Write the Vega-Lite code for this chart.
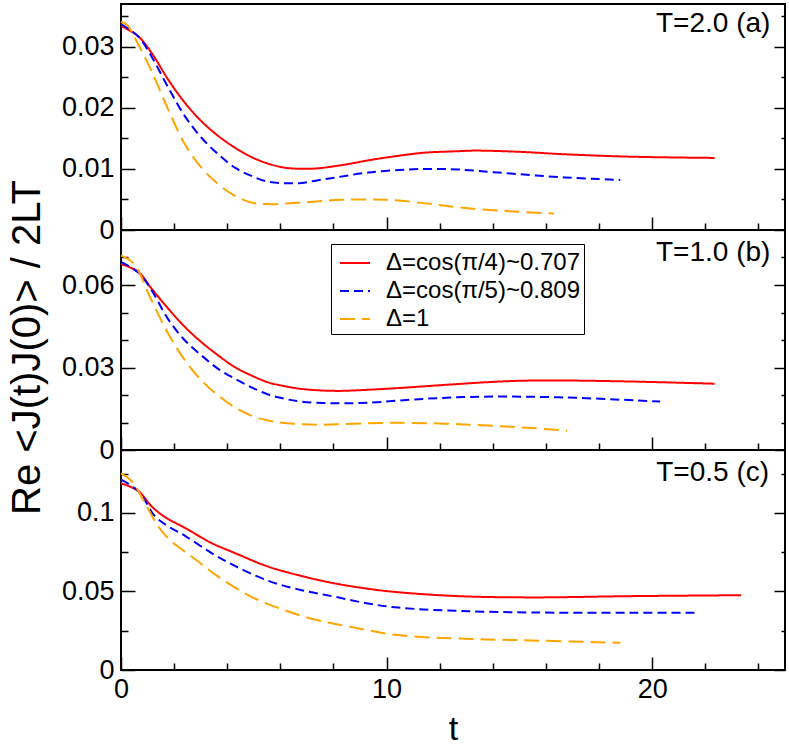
{
  "$schema": "https://vega.github.io/schema/vega-lite/v6.json",
  "padding": {"left": 6, "top": 3, "right": 2, "bottom": 5},
  "background": "white",
  "config": {
    "font": "Liberation Sans",
    "view": {"stroke": "#000", "strokeWidth": 2},
    "axis": {
      "domain": false, "grid": false, "tickColor": "#000", "tickWidth": 1.5,
      "labelColor": "#000", "labelFont": "Liberation Sans", "labelFontSize": 27,
      "titleFont": "Liberation Sans", "titleFontWeight": "normal", "titleColor": "#000",
      "labelOverlap": false, "labelBound": false, "labelFlush": false, "minExtent": 0
    },
    "legend": {
      "orient": "none", "legendX": 210, "legendY": 240, "title": null,
      "symbolType": "stroke", "symbolSize": 900, "symbolStrokeWidth": 2, "symbolOffset": 5,
      "labelFontSize": 24, "labelFont": "Liberation Sans", "labelColor": "#000", "labelLimit": 0,
      "labelOffset": 15, "padding": 3, "rowPadding": 0,
      "strokeColor": "#000", "fillColor": "#fff"
    }
  },
  "datasets": {
    "a": [
      {"s": "Δ=cos(π/4)~0.707", "t": 0, "v": 0.0334},
      {"s": "Δ=cos(π/4)~0.707", "t": 0.65, "v": 0.0317},
      {"s": "Δ=cos(π/4)~0.707", "t": 1.15, "v": 0.0290},
      {"s": "Δ=cos(π/4)~0.707", "t": 1.78, "v": 0.0246},
      {"s": "Δ=cos(π/4)~0.707", "t": 2.41, "v": 0.0208},
      {"s": "Δ=cos(π/4)~0.707", "t": 3.03, "v": 0.0178},
      {"s": "Δ=cos(π/4)~0.707", "t": 3.66, "v": 0.0154},
      {"s": "Δ=cos(π/4)~0.707", "t": 4.29, "v": 0.01347},
      {"s": "Δ=cos(π/4)~0.707", "t": 4.91, "v": 0.01195},
      {"s": "Δ=cos(π/4)~0.707", "t": 5.54, "v": 0.01086},
      {"s": "Δ=cos(π/4)~0.707", "t": 6.17, "v": 0.0102},
      {"s": "Δ=cos(π/4)~0.707", "t": 6.8, "v": 0.01002},
      {"s": "Δ=cos(π/4)~0.707", "t": 7.42, "v": 0.0101},
      {"s": "Δ=cos(π/4)~0.707", "t": 8.05, "v": 0.01045},
      {"s": "Δ=cos(π/4)~0.707", "t": 8.68, "v": 0.0109},
      {"s": "Δ=cos(π/4)~0.707", "t": 9.3, "v": 0.0114},
      {"s": "Δ=cos(π/4)~0.707", "t": 10.2, "v": 0.0120},
      {"s": "Δ=cos(π/4)~0.707", "t": 11.4, "v": 0.01265},
      {"s": "Δ=cos(π/4)~0.707", "t": 12.7, "v": 0.0129},
      {"s": "Δ=cos(π/4)~0.707", "t": 13.3, "v": 0.0130},
      {"s": "Δ=cos(π/4)~0.707", "t": 15.0, "v": 0.0128},
      {"s": "Δ=cos(π/4)~0.707", "t": 16.7, "v": 0.0124},
      {"s": "Δ=cos(π/4)~0.707", "t": 19.2, "v": 0.0120},
      {"s": "Δ=cos(π/4)~0.707", "t": 22.35, "v": 0.0118},
      {"s": "Δ=cos(π/5)~0.809", "t": 0, "v": 0.0337},
      {"s": "Δ=cos(π/5)~0.809", "t": 0.65, "v": 0.0317},
      {"s": "Δ=cos(π/5)~0.809", "t": 1.15, "v": 0.0284},
      {"s": "Δ=cos(π/5)~0.809", "t": 1.78, "v": 0.0233},
      {"s": "Δ=cos(π/5)~0.809", "t": 2.41, "v": 0.0186},
      {"s": "Δ=cos(π/5)~0.809", "t": 3.03, "v": 0.0151},
      {"s": "Δ=cos(π/5)~0.809", "t": 3.66, "v": 0.0124},
      {"s": "Δ=cos(π/5)~0.809", "t": 4.29, "v": 0.0102},
      {"s": "Δ=cos(π/5)~0.809", "t": 4.91, "v": 0.00885},
      {"s": "Δ=cos(π/5)~0.809", "t": 5.54, "v": 0.0079},
      {"s": "Δ=cos(π/5)~0.809", "t": 6.17, "v": 0.00766},
      {"s": "Δ=cos(π/5)~0.809", "t": 6.8, "v": 0.0077},
      {"s": "Δ=cos(π/5)~0.809", "t": 7.42, "v": 0.00815},
      {"s": "Δ=cos(π/5)~0.809", "t": 8.05, "v": 0.00858},
      {"s": "Δ=cos(π/5)~0.809", "t": 9.3, "v": 0.0094},
      {"s": "Δ=cos(π/5)~0.809", "t": 10.8, "v": 0.0099},
      {"s": "Δ=cos(π/5)~0.809", "t": 11.7, "v": 0.0100},
      {"s": "Δ=cos(π/5)~0.809", "t": 12.7, "v": 0.0099},
      {"s": "Δ=cos(π/5)~0.809", "t": 14.2, "v": 0.0094},
      {"s": "Δ=cos(π/5)~0.809", "t": 16.7, "v": 0.0086},
      {"s": "Δ=cos(π/5)~0.809", "t": 18.8, "v": 0.0082},
      {"s": "Δ=1", "t": 0, "v": 0.0341},
      {"s": "Δ=1", "t": 0.25, "v": 0.0335},
      {"s": "Δ=1", "t": 0.53, "v": 0.0314},
      {"s": "Δ=1", "t": 1.15, "v": 0.0260},
      {"s": "Δ=1", "t": 1.78, "v": 0.0197},
      {"s": "Δ=1", "t": 2.41, "v": 0.0140},
      {"s": "Δ=1", "t": 3.03, "v": 0.0102},
      {"s": "Δ=1", "t": 3.66, "v": 0.0075},
      {"s": "Δ=1", "t": 4.29, "v": 0.0056},
      {"s": "Δ=1", "t": 4.91, "v": 0.0045},
      {"s": "Δ=1", "t": 5.54, "v": 0.00424},
      {"s": "Δ=1", "t": 6.8, "v": 0.0045},
      {"s": "Δ=1", "t": 8.05, "v": 0.0049},
      {"s": "Δ=1", "t": 9.3, "v": 0.0050},
      {"s": "Δ=1", "t": 10.2, "v": 0.0049},
      {"s": "Δ=1", "t": 11.4, "v": 0.0044},
      {"s": "Δ=1", "t": 12.7, "v": 0.0037},
      {"s": "Δ=1", "t": 14.5, "v": 0.0031},
      {"s": "Δ=1", "t": 16.3, "v": 0.0027}
    ],
    "b": [
      {"s": "Δ=cos(π/4)~0.707", "t": 0, "v": 0.0676},
      {"s": "Δ=cos(π/4)~0.707", "t": 0.65, "v": 0.0648},
      {"s": "Δ=cos(π/4)~0.707", "t": 1.15, "v": 0.0587},
      {"s": "Δ=cos(π/4)~0.707", "t": 1.78, "v": 0.0514},
      {"s": "Δ=cos(π/4)~0.707", "t": 2.41, "v": 0.0447},
      {"s": "Δ=cos(π/4)~0.707", "t": 3.03, "v": 0.0392},
      {"s": "Δ=cos(π/4)~0.707", "t": 3.66, "v": 0.0344},
      {"s": "Δ=cos(π/4)~0.707", "t": 4.29, "v": 0.0301},
      {"s": "Δ=cos(π/4)~0.707", "t": 4.91, "v": 0.0271},
      {"s": "Δ=cos(π/4)~0.707", "t": 5.54, "v": 0.0246},
      {"s": "Δ=cos(π/4)~0.707", "t": 6.17, "v": 0.0232},
      {"s": "Δ=cos(π/4)~0.707", "t": 6.8, "v": 0.0222},
      {"s": "Δ=cos(π/4)~0.707", "t": 8.05, "v": 0.0215},
      {"s": "Δ=cos(π/4)~0.707", "t": 9.3, "v": 0.0219},
      {"s": "Δ=cos(π/4)~0.707", "t": 10.4, "v": 0.0225},
      {"s": "Δ=cos(π/4)~0.707", "t": 12.7, "v": 0.0240},
      {"s": "Δ=cos(π/4)~0.707", "t": 14.5, "v": 0.0250},
      {"s": "Δ=cos(π/4)~0.707", "t": 16.1, "v": 0.0253},
      {"s": "Δ=cos(π/4)~0.707", "t": 19.2, "v": 0.0249},
      {"s": "Δ=cos(π/4)~0.707", "t": 22.35, "v": 0.0241},
      {"s": "Δ=cos(π/5)~0.809", "t": 0, "v": 0.0684},
      {"s": "Δ=cos(π/5)~0.809", "t": 0.65, "v": 0.0645},
      {"s": "Δ=cos(π/5)~0.809", "t": 1.15, "v": 0.0581},
      {"s": "Δ=cos(π/5)~0.809", "t": 1.78, "v": 0.0475},
      {"s": "Δ=cos(π/5)~0.809", "t": 2.41, "v": 0.0398},
      {"s": "Δ=cos(π/5)~0.809", "t": 3.03, "v": 0.0344},
      {"s": "Δ=cos(π/5)~0.809", "t": 3.66, "v": 0.0295},
      {"s": "Δ=cos(π/5)~0.809", "t": 4.29, "v": 0.0259},
      {"s": "Δ=cos(π/5)~0.809", "t": 4.91, "v": 0.0228},
      {"s": "Δ=cos(π/5)~0.809", "t": 5.54, "v": 0.0202},
      {"s": "Δ=cos(π/5)~0.809", "t": 6.17, "v": 0.0186},
      {"s": "Δ=cos(π/5)~0.809", "t": 6.8, "v": 0.0176},
      {"s": "Δ=cos(π/5)~0.809", "t": 8.05, "v": 0.0170},
      {"s": "Δ=cos(π/5)~0.809", "t": 9.3, "v": 0.0172},
      {"s": "Δ=cos(π/5)~0.809", "t": 11.4, "v": 0.0186},
      {"s": "Δ=cos(π/5)~0.809", "t": 13.6, "v": 0.0194},
      {"s": "Δ=cos(π/5)~0.809", "t": 16.7, "v": 0.0191},
      {"s": "Δ=cos(π/5)~0.809", "t": 20.3, "v": 0.0176},
      {"s": "Δ=1", "t": 0, "v": 0.0708},
      {"s": "Δ=1", "t": 0.25, "v": 0.0695},
      {"s": "Δ=1", "t": 0.53, "v": 0.0672},
      {"s": "Δ=1", "t": 1.15, "v": 0.0544},
      {"s": "Δ=1", "t": 1.78, "v": 0.0423},
      {"s": "Δ=1", "t": 2.41, "v": 0.0326},
      {"s": "Δ=1", "t": 3.03, "v": 0.0253},
      {"s": "Δ=1", "t": 3.66, "v": 0.0198},
      {"s": "Δ=1", "t": 4.29, "v": 0.0155},
      {"s": "Δ=1", "t": 4.91, "v": 0.0125},
      {"s": "Δ=1", "t": 5.54, "v": 0.0107},
      {"s": "Δ=1", "t": 6.17, "v": 0.0098},
      {"s": "Δ=1", "t": 7.42, "v": 0.0092},
      {"s": "Δ=1", "t": 9.3, "v": 0.0097},
      {"s": "Δ=1", "t": 10.4, "v": 0.0099},
      {"s": "Δ=1", "t": 12.7, "v": 0.0094},
      {"s": "Δ=1", "t": 15.45, "v": 0.0080},
      {"s": "Δ=1", "t": 16.8, "v": 0.0070}
    ],
    "c": [
      {"s": "Δ=cos(π/4)~0.707", "t": 0, "v": 0.1188},
      {"s": "Δ=cos(π/4)~0.707", "t": 0.65, "v": 0.1139},
      {"s": "Δ=cos(π/4)~0.707", "t": 1.15, "v": 0.1042},
      {"s": "Δ=cos(π/4)~0.707", "t": 1.65, "v": 0.0974},
      {"s": "Δ=cos(π/4)~0.707", "t": 2.41, "v": 0.0904},
      {"s": "Δ=cos(π/4)~0.707", "t": 3.41, "v": 0.0808},
      {"s": "Δ=cos(π/4)~0.707", "t": 4.29, "v": 0.0744},
      {"s": "Δ=cos(π/4)~0.707", "t": 5.54, "v": 0.0658},
      {"s": "Δ=cos(π/4)~0.707", "t": 6.8, "v": 0.0598},
      {"s": "Δ=cos(π/4)~0.707", "t": 8.05, "v": 0.0551},
      {"s": "Δ=cos(π/4)~0.707", "t": 9.3, "v": 0.0517},
      {"s": "Δ=cos(π/4)~0.707", "t": 10.43, "v": 0.0495},
      {"s": "Δ=cos(π/4)~0.707", "t": 12.7, "v": 0.0470},
      {"s": "Δ=cos(π/4)~0.707", "t": 15.45, "v": 0.0462},
      {"s": "Δ=cos(π/4)~0.707", "t": 19.2, "v": 0.0470},
      {"s": "Δ=cos(π/4)~0.707", "t": 23.35, "v": 0.0476},
      {"s": "Δ=cos(π/5)~0.809", "t": 0, "v": 0.1211},
      {"s": "Δ=cos(π/5)~0.809", "t": 0.65, "v": 0.1139},
      {"s": "Δ=cos(π/5)~0.809", "t": 1.28, "v": 0.0978},
      {"s": "Δ=cos(π/5)~0.809", "t": 1.78, "v": 0.0914},
      {"s": "Δ=cos(π/5)~0.809", "t": 2.41, "v": 0.0854},
      {"s": "Δ=cos(π/5)~0.809", "t": 3.41, "v": 0.0744},
      {"s": "Δ=cos(π/5)~0.809", "t": 4.29, "v": 0.0662},
      {"s": "Δ=cos(π/5)~0.809", "t": 5.54, "v": 0.0568},
      {"s": "Δ=cos(π/5)~0.809", "t": 6.8, "v": 0.0508},
      {"s": "Δ=cos(π/5)~0.809", "t": 8.05, "v": 0.0466},
      {"s": "Δ=cos(π/5)~0.809", "t": 9.3, "v": 0.0423},
      {"s": "Δ=cos(π/5)~0.809", "t": 10.43, "v": 0.0397},
      {"s": "Δ=cos(π/5)~0.809", "t": 12.69, "v": 0.0376},
      {"s": "Δ=cos(π/5)~0.809", "t": 15.45, "v": 0.0366},
      {"s": "Δ=cos(π/5)~0.809", "t": 19.2, "v": 0.0365},
      {"s": "Δ=cos(π/5)~0.809", "t": 21.7, "v": 0.0365},
      {"s": "Δ=1", "t": 0, "v": 0.1252},
      {"s": "Δ=1", "t": 0.4, "v": 0.1203},
      {"s": "Δ=1", "t": 0.9, "v": 0.1064},
      {"s": "Δ=1", "t": 1.4, "v": 0.0914},
      {"s": "Δ=1", "t": 1.9, "v": 0.0818},
      {"s": "Δ=1", "t": 2.66, "v": 0.0722},
      {"s": "Δ=1", "t": 3.66, "v": 0.0594},
      {"s": "Δ=1", "t": 4.91, "v": 0.0466},
      {"s": "Δ=1", "t": 6.17, "v": 0.0380},
      {"s": "Δ=1", "t": 7.42, "v": 0.0316},
      {"s": "Δ=1", "t": 8.68, "v": 0.0273},
      {"s": "Δ=1", "t": 10.43, "v": 0.0222},
      {"s": "Δ=1", "t": 12.94, "v": 0.0199},
      {"s": "Δ=1", "t": 15.45, "v": 0.0188},
      {"s": "Δ=1", "t": 18.8, "v": 0.0173}
    ]
  },
  "spacing": 0,
  "bounds": "flush",
  "vconcat": [
    {
      "width": 664, "height": 226,
      "data": {"name": "a"},
      "layer": [
        {
          "mark": {"type": "line", "strokeWidth": 2, "interpolate": "catmull-rom"},
          "encoding": {
            "x": {"field": "t", "type": "quantitative", "scale": {"domain": [0, 25], "nice": false}, "axis": null},
            "y": {"field": "v", "type": "quantitative", "scale": {"domain": [0, 0.037], "nice": false, "zero": false},
                  "axis": {"orient": "left", "values": [0, 0.01, 0.02, 0.03], "ticks": false, "format": "~g", "labelPadding": 7, "title": null}},
            "color": {"field": "s", "type": "nominal", "sort": null,
                      "scale": {"domain": ["Δ=cos(π/4)~0.707", "Δ=cos(π/5)~0.809", "Δ=1"], "range": ["#ff0000", "#0000ff", "#ffa500"]}},
            "strokeDash": {"field": "s", "type": "nominal", "sort": null,
                           "scale": {"domain": ["Δ=cos(π/4)~0.707", "Δ=cos(π/5)~0.809", "Δ=1"], "range": [[1, 0], [9, 5], [15, 7]]}}
          }
        },
        {
          "mark": {"type": "point", "opacity": 0},
          "encoding": {
            "x": {"field": "t", "type": "quantitative", "scale": {"domain": [0, 25], "nice": false},
                  "axis": {"orient": "bottom", "values": [0, 10, 20], "labels": false, "tickSize": -13, "title": null}},
            "y": {"field": "v", "type": "quantitative", "scale": {"domain": [0, 0.037], "nice": false, "zero": false},
                  "axis": {"orient": "left", "values": [0, 0.01, 0.02, 0.03], "labels": false, "tickSize": -14, "title": null}}
          }
        },
        {
          "mark": {"type": "point", "opacity": 0},
          "encoding": {
            "x": {"field": "t", "type": "quantitative", "scale": {"domain": [0, 25], "nice": false},
                  "axis": {"orient": "bottom", "values": [2, 4, 6, 8, 12, 14, 16, 18, 22, 24], "labels": false, "tickSize": -7, "title": null}},
            "y": {"field": "v", "type": "quantitative", "scale": {"domain": [0, 0.037], "nice": false, "zero": false},
                  "axis": {"orient": "left", "values": [0.005, 0.015, 0.025, 0.035], "labels": false, "tickSize": -7, "title": null}}
          }
        },
        {
          "mark": {"type": "point", "opacity": 0},
          "encoding": {
            "x": {"field": "t", "type": "quantitative", "scale": {"domain": [0, 25], "nice": false}, "axis": null},
            "y": {"field": "v", "type": "quantitative", "scale": {"domain": [0, 0.037], "nice": false, "zero": false},
                  "axis": {"orient": "right", "values": [0, 0.01, 0.02, 0.03], "labels": false, "tickSize": -11, "title": null}}
          }
        },
        {
          "mark": {"type": "point", "opacity": 0},
          "encoding": {
            "x": {"field": "t", "type": "quantitative", "scale": {"domain": [0, 25], "nice": false}, "axis": null},
            "y": {"field": "v", "type": "quantitative", "scale": {"domain": [0, 0.037], "nice": false, "zero": false},
                  "axis": {"orient": "right", "values": [0.005, 0.015, 0.025, 0.035], "labels": false, "tickSize": -4, "title": null}}
          }
        },
        {
          "data": {"values": [{}]},
          "mark": {"type": "text", "text": "T=2.0 (a)", "align": "right", "baseline": "middle", "fontSize": 28, "color": "#000"},
          "encoding": {
            "x": {"datum": 24.45, "type": "quantitative", "scale": {"domain": [0, 25], "nice": false}, "axis": null},
            "y": {"datum": 0.0338, "type": "quantitative", "scale": {"domain": [0, 0.037], "nice": false, "zero": false}, "axis": null}
          }
        }
      ],
      "resolve": {"axis": {"x": "independent", "y": "independent"}}
    },
    {
      "width": 664, "height": 220,
      "data": {"name": "b"},
      "layer": [
        {
          "mark": {"type": "line", "strokeWidth": 2, "interpolate": "catmull-rom"},
          "encoding": {
            "x": {"field": "t", "type": "quantitative", "scale": {"domain": [0, 25], "nice": false}, "axis": null},
            "y": {"field": "v", "type": "quantitative", "scale": {"domain": [0, 0.08], "nice": false, "zero": false},
                  "axis": {"orient": "left", "values": [0, 0.03, 0.06], "ticks": false, "format": "~g", "labelPadding": 7,
                           "title": "Re <J(t)J(0)> / 2LT", "titleFontSize": 40, "titlePadding": 14, "titleY": 117}},
            "color": {"field": "s", "type": "nominal", "sort": null,
                      "scale": {"domain": ["Δ=cos(π/4)~0.707", "Δ=cos(π/5)~0.809", "Δ=1"], "range": ["#ff0000", "#0000ff", "#ffa500"]}},
            "strokeDash": {"field": "s", "type": "nominal", "sort": null,
                           "scale": {"domain": ["Δ=cos(π/4)~0.707", "Δ=cos(π/5)~0.809", "Δ=1"], "range": [[1, 0], [9, 5], [15, 7]]}}
          }
        },
        {
          "mark": {"type": "point", "opacity": 0},
          "encoding": {
            "x": {"field": "t", "type": "quantitative", "scale": {"domain": [0, 25], "nice": false},
                  "axis": {"orient": "bottom", "values": [0, 10, 20], "labels": false, "tickSize": -13, "title": null}},
            "y": {"field": "v", "type": "quantitative", "scale": {"domain": [0, 0.08], "nice": false, "zero": false},
                  "axis": {"orient": "left", "values": [0, 0.03, 0.06], "labels": false, "tickSize": -14, "title": null}}
          }
        },
        {
          "mark": {"type": "point", "opacity": 0},
          "encoding": {
            "x": {"field": "t", "type": "quantitative", "scale": {"domain": [0, 25], "nice": false},
                  "axis": {"orient": "bottom", "values": [2, 4, 6, 8, 12, 14, 16, 18, 22, 24], "labels": false, "tickSize": -7, "title": null}},
            "y": {"field": "v", "type": "quantitative", "scale": {"domain": [0, 0.08], "nice": false, "zero": false},
                  "axis": {"orient": "left", "values": [0.01, 0.02, 0.04, 0.05, 0.07], "labels": false, "tickSize": -7, "title": null}}
          }
        },
        {
          "mark": {"type": "point", "opacity": 0},
          "encoding": {
            "x": {"field": "t", "type": "quantitative", "scale": {"domain": [0, 25], "nice": false}, "axis": null},
            "y": {"field": "v", "type": "quantitative", "scale": {"domain": [0, 0.08], "nice": false, "zero": false},
                  "axis": {"orient": "right", "values": [0, 0.03, 0.06], "labels": false, "tickSize": -11, "title": null}}
          }
        },
        {
          "mark": {"type": "point", "opacity": 0},
          "encoding": {
            "x": {"field": "t", "type": "quantitative", "scale": {"domain": [0, 25], "nice": false}, "axis": null},
            "y": {"field": "v", "type": "quantitative", "scale": {"domain": [0, 0.08], "nice": false, "zero": false},
                  "axis": {"orient": "right", "values": [0.01, 0.02, 0.04, 0.05, 0.07], "labels": false, "tickSize": -4, "title": null}}
          }
        },
        {
          "data": {"values": [{}]},
          "mark": {"type": "text", "text": "T=1.0 (b)", "align": "right", "baseline": "middle", "fontSize": 28, "color": "#000"},
          "encoding": {
            "x": {"datum": 24.45, "type": "quantitative", "scale": {"domain": [0, 25], "nice": false}, "axis": null},
            "y": {"datum": 0.0715, "type": "quantitative", "scale": {"domain": [0, 0.08], "nice": false, "zero": false}, "axis": null}
          }
        }
      ],
      "resolve": {"axis": {"x": "independent", "y": "independent"}}
    },
    {
      "width": 664, "height": 220,
      "data": {"name": "c"},
      "layer": [
        {
          "mark": {"type": "line", "strokeWidth": 2, "interpolate": "catmull-rom"},
          "encoding": {
            "x": {"field": "t", "type": "quantitative", "scale": {"domain": [0, 25], "nice": false},
                  "axis": {"orient": "bottom", "values": [0, 10, 20], "ticks": false, "labelPadding": 6, "title": "t", "titleFontSize": 34, "titlePadding": 10}},
            "y": {"field": "v", "type": "quantitative", "scale": {"domain": [0, 0.14], "nice": false, "zero": false},
                  "axis": {"orient": "left", "values": [0, 0.05, 0.1], "ticks": false, "format": "~g", "labelPadding": 7, "title": null}},
            "color": {"field": "s", "type": "nominal", "sort": null,
                      "scale": {"domain": ["Δ=cos(π/4)~0.707", "Δ=cos(π/5)~0.809", "Δ=1"], "range": ["#ff0000", "#0000ff", "#ffa500"]}},
            "strokeDash": {"field": "s", "type": "nominal", "sort": null,
                           "scale": {"domain": ["Δ=cos(π/4)~0.707", "Δ=cos(π/5)~0.809", "Δ=1"], "range": [[1, 0], [9, 5], [15, 7]]}}
          }
        },
        {
          "mark": {"type": "point", "opacity": 0},
          "encoding": {
            "x": {"field": "t", "type": "quantitative", "scale": {"domain": [0, 25], "nice": false},
                  "axis": {"orient": "bottom", "values": [0, 10, 20], "labels": false, "tickSize": -13, "title": null}},
            "y": {"field": "v", "type": "quantitative", "scale": {"domain": [0, 0.14], "nice": false, "zero": false},
                  "axis": {"orient": "left", "values": [0, 0.05, 0.1], "labels": false, "tickSize": -14, "title": null}}
          }
        },
        {
          "mark": {"type": "point", "opacity": 0},
          "encoding": {
            "x": {"field": "t", "type": "quantitative", "scale": {"domain": [0, 25], "nice": false},
                  "axis": {"orient": "bottom", "values": [2, 4, 6, 8, 12, 14, 16, 18, 22, 24], "labels": false, "tickSize": -7, "title": null}},
            "y": {"field": "v", "type": "quantitative", "scale": {"domain": [0, 0.14], "nice": false, "zero": false},
                  "axis": {"orient": "left", "values": [0.025, 0.075, 0.125], "labels": false, "tickSize": -7, "title": null}}
          }
        },
        {
          "mark": {"type": "point", "opacity": 0},
          "encoding": {
            "x": {"field": "t", "type": "quantitative", "scale": {"domain": [0, 25], "nice": false}, "axis": null},
            "y": {"field": "v", "type": "quantitative", "scale": {"domain": [0, 0.14], "nice": false, "zero": false},
                  "axis": {"orient": "right", "values": [0, 0.05, 0.1], "labels": false, "tickSize": -11, "title": null}}
          }
        },
        {
          "mark": {"type": "point", "opacity": 0},
          "encoding": {
            "x": {"field": "t", "type": "quantitative", "scale": {"domain": [0, 25], "nice": false}, "axis": null},
            "y": {"field": "v", "type": "quantitative", "scale": {"domain": [0, 0.14], "nice": false, "zero": false},
                  "axis": {"orient": "right", "values": [0.025, 0.075, 0.125], "labels": false, "tickSize": -4, "title": null}}
          }
        },
        {
          "data": {"values": [{}]},
          "mark": {"type": "text", "text": "T=0.5 (c)", "align": "right", "baseline": "middle", "fontSize": 28, "color": "#000"},
          "encoding": {
            "x": {"datum": 24.4, "type": "quantitative", "scale": {"domain": [0, 25], "nice": false}, "axis": null},
            "y": {"datum": 0.1256, "type": "quantitative", "scale": {"domain": [0, 0.14], "nice": false, "zero": false}, "axis": null}
          }
        }
      ],
      "resolve": {"axis": {"x": "independent", "y": "independent"}}
    }
  ]
}
